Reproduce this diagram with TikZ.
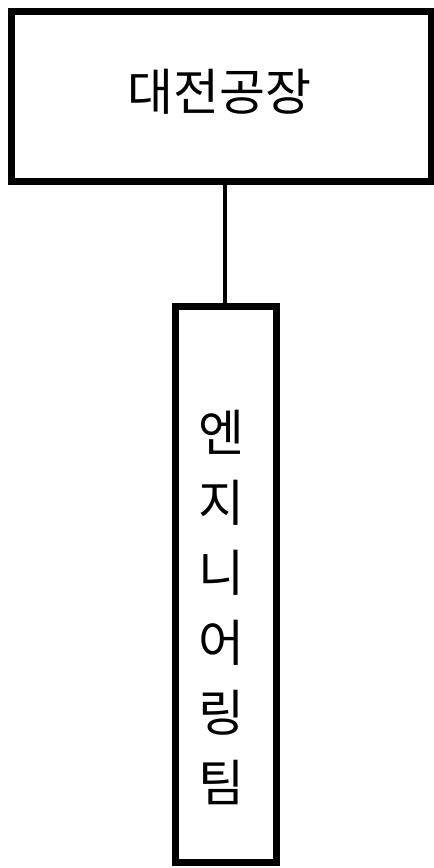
\documentclass[tikz,border=0pt]{standalone}
\usepackage{fontspec}
\newfontfamily\kor{Noto Sans CJK KR}
\begin{document}
\begin{tikzpicture}[x=1pt,y=-1pt,
  boxstyle/.style={draw=black,line width=7pt,fill=white,inner sep=0pt},
  txt/.style={font=\kor\fontsize{50}{70}\selectfont,align=center,inner sep=0pt}]
\useasboundingbox (0,0) rectangle (434,868);
\node[boxstyle,minimum width=420pt,minimum height=170pt] (top) at (221,96) {};
\node[boxstyle,minimum width=101pt,minimum height=556pt] (bot) at (225.5,584) {};
\draw[line width=4pt] (top.south -| 225,0) -- (bot.north -| 225,0);
\node[txt] (t1) at (219,92) {대전공장};
\node[txt] (t2) at (221,607) {엔\\지\\니\\어\\링\\팀};
\end{tikzpicture}
\end{document}
